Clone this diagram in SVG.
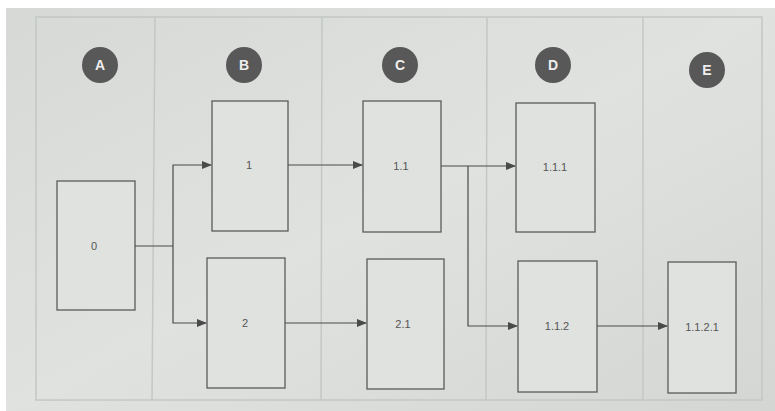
<svg xmlns="http://www.w3.org/2000/svg" width="775" height="411" viewBox="0 0 775 411">
<defs>
<marker id="ah" markerWidth="10" markerHeight="8" refX="9" refY="4" orient="auto" markerUnits="userSpaceOnUse">
<path d="M0,0 L10,4 L0,8 z" fill="#4a4a4a"/>
</marker>
<linearGradient id="pg" x1="0" y1="0" x2="1" y2="1">
<stop offset="0" stop-color="#d6d9d6"/>
<stop offset="0.5" stop-color="#dfe2df"/>
<stop offset="1" stop-color="#d3d6d3"/>
</linearGradient>
</defs>
<style>
.col{fill:none;stroke:#c4c7c4;stroke-width:1.5}
.box{fill:#dfe2df;stroke:#5a5a5a;stroke-width:1.3}
.lbl{font-family:"Liberation Sans",Arial,sans-serif;font-size:11px;fill:#555;text-anchor:middle;dominant-baseline:central}
.circ{fill:#585858}
.cl{font-family:"Liberation Sans",Arial,sans-serif;font-size:14px;font-weight:bold;fill:#eeeeee;text-anchor:middle;dominant-baseline:central}
.conn{fill:none;stroke:#4a4a4a;stroke-width:1.2}
</style>
<rect x="0" y="0" width="775" height="411" fill="#ffffff"/>
<rect x="6" y="8" width="769" height="403" fill="url(#pg)"/>
<g id="columns">
<rect class="col" x="36" y="17" width="726" height="383"/>
<line class="col" x1="155" y1="17" x2="152" y2="400"/>
<line class="col" x1="322" y1="17" x2="321" y2="400"/>
<line class="col" x1="487" y1="17" x2="486" y2="400"/>
<line class="col" x1="643" y1="17" x2="643" y2="400"/>
</g>
<g id="header-A"><circle class="circ" cx="100" cy="65" r="18"/><text class="cl" x="100" y="65">A</text></g>
<g id="header-B"><circle class="circ" cx="244" cy="65" r="18"/><text class="cl" x="244" y="65">B</text></g>
<g id="header-C"><circle class="circ" cx="400" cy="65" r="18"/><text class="cl" x="400" y="65">C</text></g>
<g id="header-D"><circle class="circ" cx="553" cy="65" r="18"/><text class="cl" x="553" y="65">D</text></g>
<g id="header-E"><circle class="circ" cx="707" cy="70" r="18"/><text class="cl" x="707" y="70">E</text></g>
<g id="node-0"><rect class="box" x="57" y="181" width="78" height="129"/><text class="lbl" x="94" y="246">0</text></g>
<g id="node-1"><rect class="box" x="212" y="101" width="76" height="130"/><text class="lbl" x="249" y="165">1</text></g>
<g id="node-2"><rect class="box" x="207" y="258" width="78" height="130"/><text class="lbl" x="245" y="323">2</text></g>
<g id="node-1.1"><rect class="box" x="363" y="101" width="78" height="131"/><text class="lbl" x="401" y="166">1.1</text></g>
<g id="node-2.1"><rect class="box" x="367" y="259" width="77" height="130"/><text class="lbl" x="403" y="324">2.1</text></g>
<g id="node-1.1.1"><rect class="box" x="516" y="103" width="79" height="129"/><text class="lbl" x="555" y="167">1.1.1</text></g>
<g id="node-1.1.2"><rect class="box" x="518" y="261" width="79" height="131"/><text class="lbl" x="557" y="326">1.1.2</text></g>
<g id="node-1.1.2.1"><rect class="box" x="668" y="262" width="68" height="131"/><text class="lbl" x="702" y="327">1.1.2.1</text></g>
<g id="connectors">
<polyline class="conn" points="135,246 173,246"/>
<polyline class="conn" points="173,246 173,165 211,165" marker-end="url(#ah)"/>
<polyline class="conn" points="173,246 173,323 206,323" marker-end="url(#ah)"/>
<line class="conn" x1="288" y1="165" x2="362" y2="165" marker-end="url(#ah)"/>
<line class="conn" x1="285" y1="323" x2="366" y2="323" marker-end="url(#ah)"/>
<line class="conn" x1="441" y1="166" x2="515" y2="166" marker-end="url(#ah)"/>
<polyline class="conn" points="468,166 468,326 517,326" marker-end="url(#ah)"/>
<line class="conn" x1="597" y1="326" x2="667" y2="326" marker-end="url(#ah)"/>
</g>
</svg>
